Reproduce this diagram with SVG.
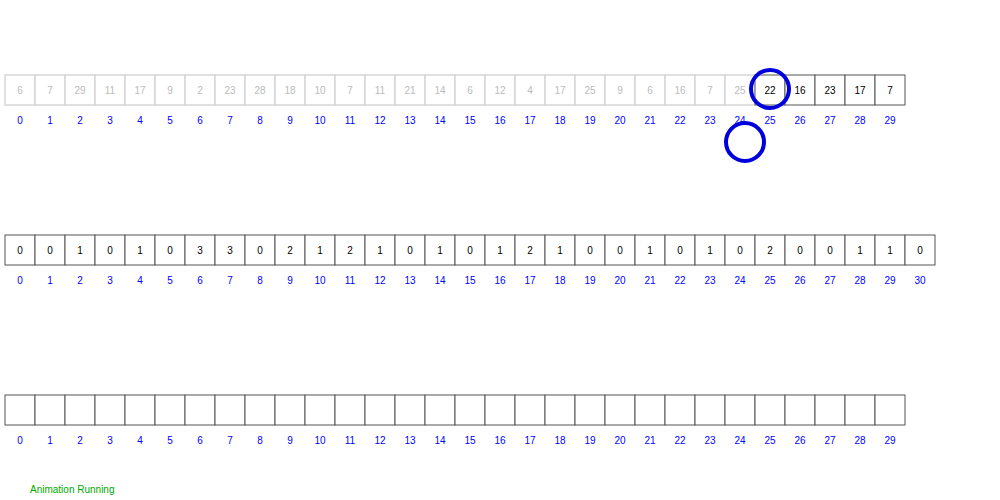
<svg xmlns="http://www.w3.org/2000/svg" width="1000" height="500" viewBox="0 0 1000 500">
<style>
text{font-family:"Liberation Sans",Arial,sans-serif;font-size:10px;text-anchor:middle}
.c{fill:#fff;stroke:#555;stroke-width:1}
.f{fill:#fff;stroke:#d6d6d6;stroke-width:1.5}
.v{fill:#000}
.fv{fill:#bbb}
.i{fill:#0000ff}
.hl{fill:none;stroke:#0000dd;stroke-width:4}
</style>
<rect width="1000" height="500" fill="#fff"/>
<g id="input">
<g id="a0"><rect class="f" x="5" y="75" width="30" height="30"/><text class="fv" x="20" y="93.5">6</text><text class="i" x="20" y="123.5">0</text></g>
<g id="a1"><rect class="f" x="35" y="75" width="30" height="30"/><text class="fv" x="50" y="93.5">7</text><text class="i" x="50" y="123.5">1</text></g>
<g id="a2"><rect class="f" x="65" y="75" width="30" height="30"/><text class="fv" x="80" y="93.5">29</text><text class="i" x="80" y="123.5">2</text></g>
<g id="a3"><rect class="f" x="95" y="75" width="30" height="30"/><text class="fv" x="110" y="93.5">11</text><text class="i" x="110" y="123.5">3</text></g>
<g id="a4"><rect class="f" x="125" y="75" width="30" height="30"/><text class="fv" x="140" y="93.5">17</text><text class="i" x="140" y="123.5">4</text></g>
<g id="a5"><rect class="f" x="155" y="75" width="30" height="30"/><text class="fv" x="170" y="93.5">9</text><text class="i" x="170" y="123.5">5</text></g>
<g id="a6"><rect class="f" x="185" y="75" width="30" height="30"/><text class="fv" x="200" y="93.5">2</text><text class="i" x="200" y="123.5">6</text></g>
<g id="a7"><rect class="f" x="215" y="75" width="30" height="30"/><text class="fv" x="230" y="93.5">23</text><text class="i" x="230" y="123.5">7</text></g>
<g id="a8"><rect class="f" x="245" y="75" width="30" height="30"/><text class="fv" x="260" y="93.5">28</text><text class="i" x="260" y="123.5">8</text></g>
<g id="a9"><rect class="f" x="275" y="75" width="30" height="30"/><text class="fv" x="290" y="93.5">18</text><text class="i" x="290" y="123.5">9</text></g>
<g id="a10"><rect class="f" x="305" y="75" width="30" height="30"/><text class="fv" x="320" y="93.5">10</text><text class="i" x="320" y="123.5">10</text></g>
<g id="a11"><rect class="f" x="335" y="75" width="30" height="30"/><text class="fv" x="350" y="93.5">7</text><text class="i" x="350" y="123.5">11</text></g>
<g id="a12"><rect class="f" x="365" y="75" width="30" height="30"/><text class="fv" x="380" y="93.5">11</text><text class="i" x="380" y="123.5">12</text></g>
<g id="a13"><rect class="f" x="395" y="75" width="30" height="30"/><text class="fv" x="410" y="93.5">21</text><text class="i" x="410" y="123.5">13</text></g>
<g id="a14"><rect class="f" x="425" y="75" width="30" height="30"/><text class="fv" x="440" y="93.5">14</text><text class="i" x="440" y="123.5">14</text></g>
<g id="a15"><rect class="f" x="455" y="75" width="30" height="30"/><text class="fv" x="470" y="93.5">6</text><text class="i" x="470" y="123.5">15</text></g>
<g id="a16"><rect class="f" x="485" y="75" width="30" height="30"/><text class="fv" x="500" y="93.5">12</text><text class="i" x="500" y="123.5">16</text></g>
<g id="a17"><rect class="f" x="515" y="75" width="30" height="30"/><text class="fv" x="530" y="93.5">4</text><text class="i" x="530" y="123.5">17</text></g>
<g id="a18"><rect class="f" x="545" y="75" width="30" height="30"/><text class="fv" x="560" y="93.5">17</text><text class="i" x="560" y="123.5">18</text></g>
<g id="a19"><rect class="f" x="575" y="75" width="30" height="30"/><text class="fv" x="590" y="93.5">25</text><text class="i" x="590" y="123.5">19</text></g>
<g id="a20"><rect class="f" x="605" y="75" width="30" height="30"/><text class="fv" x="620" y="93.5">9</text><text class="i" x="620" y="123.5">20</text></g>
<g id="a21"><rect class="f" x="635" y="75" width="30" height="30"/><text class="fv" x="650" y="93.5">6</text><text class="i" x="650" y="123.5">21</text></g>
<g id="a22"><rect class="f" x="665" y="75" width="30" height="30"/><text class="fv" x="680" y="93.5">16</text><text class="i" x="680" y="123.5">22</text></g>
<g id="a23"><rect class="f" x="695" y="75" width="30" height="30"/><text class="fv" x="710" y="93.5">7</text><text class="i" x="710" y="123.5">23</text></g>
<g id="a24"><rect class="f" x="725" y="75" width="30" height="30"/><text class="fv" x="740" y="93.5">25</text><text class="i" x="740" y="123.5">24</text></g>
<g id="a25"><rect class="c" x="755" y="75" width="30" height="30"/><text class="v" x="770" y="93.5">22</text><text class="i" x="770" y="123.5">25</text></g>
<g id="a26"><rect class="c" x="785" y="75" width="30" height="30"/><text class="v" x="800" y="93.5">16</text><text class="i" x="800" y="123.5">26</text></g>
<g id="a27"><rect class="c" x="815" y="75" width="30" height="30"/><text class="v" x="830" y="93.5">23</text><text class="i" x="830" y="123.5">27</text></g>
<g id="a28"><rect class="c" x="845" y="75" width="30" height="30"/><text class="v" x="860" y="93.5">17</text><text class="i" x="860" y="123.5">28</text></g>
<g id="a29"><rect class="c" x="875" y="75" width="30" height="30"/><text class="v" x="890" y="93.5">7</text><text class="i" x="890" y="123.5">29</text></g>
</g>
<g id="count">
<g id="c0"><rect class="c" x="5" y="235" width="30" height="30"/><text class="v" x="20" y="253.5">0</text><text class="i" x="20" y="283.5">0</text></g>
<g id="c1"><rect class="c" x="35" y="235" width="30" height="30"/><text class="v" x="50" y="253.5">0</text><text class="i" x="50" y="283.5">1</text></g>
<g id="c2"><rect class="c" x="65" y="235" width="30" height="30"/><text class="v" x="80" y="253.5">1</text><text class="i" x="80" y="283.5">2</text></g>
<g id="c3"><rect class="c" x="95" y="235" width="30" height="30"/><text class="v" x="110" y="253.5">0</text><text class="i" x="110" y="283.5">3</text></g>
<g id="c4"><rect class="c" x="125" y="235" width="30" height="30"/><text class="v" x="140" y="253.5">1</text><text class="i" x="140" y="283.5">4</text></g>
<g id="c5"><rect class="c" x="155" y="235" width="30" height="30"/><text class="v" x="170" y="253.5">0</text><text class="i" x="170" y="283.5">5</text></g>
<g id="c6"><rect class="c" x="185" y="235" width="30" height="30"/><text class="v" x="200" y="253.5">3</text><text class="i" x="200" y="283.5">6</text></g>
<g id="c7"><rect class="c" x="215" y="235" width="30" height="30"/><text class="v" x="230" y="253.5">3</text><text class="i" x="230" y="283.5">7</text></g>
<g id="c8"><rect class="c" x="245" y="235" width="30" height="30"/><text class="v" x="260" y="253.5">0</text><text class="i" x="260" y="283.5">8</text></g>
<g id="c9"><rect class="c" x="275" y="235" width="30" height="30"/><text class="v" x="290" y="253.5">2</text><text class="i" x="290" y="283.5">9</text></g>
<g id="c10"><rect class="c" x="305" y="235" width="30" height="30"/><text class="v" x="320" y="253.5">1</text><text class="i" x="320" y="283.5">10</text></g>
<g id="c11"><rect class="c" x="335" y="235" width="30" height="30"/><text class="v" x="350" y="253.5">2</text><text class="i" x="350" y="283.5">11</text></g>
<g id="c12"><rect class="c" x="365" y="235" width="30" height="30"/><text class="v" x="380" y="253.5">1</text><text class="i" x="380" y="283.5">12</text></g>
<g id="c13"><rect class="c" x="395" y="235" width="30" height="30"/><text class="v" x="410" y="253.5">0</text><text class="i" x="410" y="283.5">13</text></g>
<g id="c14"><rect class="c" x="425" y="235" width="30" height="30"/><text class="v" x="440" y="253.5">1</text><text class="i" x="440" y="283.5">14</text></g>
<g id="c15"><rect class="c" x="455" y="235" width="30" height="30"/><text class="v" x="470" y="253.5">0</text><text class="i" x="470" y="283.5">15</text></g>
<g id="c16"><rect class="c" x="485" y="235" width="30" height="30"/><text class="v" x="500" y="253.5">1</text><text class="i" x="500" y="283.5">16</text></g>
<g id="c17"><rect class="c" x="515" y="235" width="30" height="30"/><text class="v" x="530" y="253.5">2</text><text class="i" x="530" y="283.5">17</text></g>
<g id="c18"><rect class="c" x="545" y="235" width="30" height="30"/><text class="v" x="560" y="253.5">1</text><text class="i" x="560" y="283.5">18</text></g>
<g id="c19"><rect class="c" x="575" y="235" width="30" height="30"/><text class="v" x="590" y="253.5">0</text><text class="i" x="590" y="283.5">19</text></g>
<g id="c20"><rect class="c" x="605" y="235" width="30" height="30"/><text class="v" x="620" y="253.5">0</text><text class="i" x="620" y="283.5">20</text></g>
<g id="c21"><rect class="c" x="635" y="235" width="30" height="30"/><text class="v" x="650" y="253.5">1</text><text class="i" x="650" y="283.5">21</text></g>
<g id="c22"><rect class="c" x="665" y="235" width="30" height="30"/><text class="v" x="680" y="253.5">0</text><text class="i" x="680" y="283.5">22</text></g>
<g id="c23"><rect class="c" x="695" y="235" width="30" height="30"/><text class="v" x="710" y="253.5">1</text><text class="i" x="710" y="283.5">23</text></g>
<g id="c24"><rect class="c" x="725" y="235" width="30" height="30"/><text class="v" x="740" y="253.5">0</text><text class="i" x="740" y="283.5">24</text></g>
<g id="c25"><rect class="c" x="755" y="235" width="30" height="30"/><text class="v" x="770" y="253.5">2</text><text class="i" x="770" y="283.5">25</text></g>
<g id="c26"><rect class="c" x="785" y="235" width="30" height="30"/><text class="v" x="800" y="253.5">0</text><text class="i" x="800" y="283.5">26</text></g>
<g id="c27"><rect class="c" x="815" y="235" width="30" height="30"/><text class="v" x="830" y="253.5">0</text><text class="i" x="830" y="283.5">27</text></g>
<g id="c28"><rect class="c" x="845" y="235" width="30" height="30"/><text class="v" x="860" y="253.5">1</text><text class="i" x="860" y="283.5">28</text></g>
<g id="c29"><rect class="c" x="875" y="235" width="30" height="30"/><text class="v" x="890" y="253.5">1</text><text class="i" x="890" y="283.5">29</text></g>
<g id="c30"><rect class="c" x="905" y="235" width="30" height="30"/><text class="v" x="920" y="253.5">0</text><text class="i" x="920" y="283.5">30</text></g>
</g>
<g id="output">
<g id="o0"><rect class="c" x="5" y="395" width="30" height="30"/><text class="i" x="20" y="443.5">0</text></g>
<g id="o1"><rect class="c" x="35" y="395" width="30" height="30"/><text class="i" x="50" y="443.5">1</text></g>
<g id="o2"><rect class="c" x="65" y="395" width="30" height="30"/><text class="i" x="80" y="443.5">2</text></g>
<g id="o3"><rect class="c" x="95" y="395" width="30" height="30"/><text class="i" x="110" y="443.5">3</text></g>
<g id="o4"><rect class="c" x="125" y="395" width="30" height="30"/><text class="i" x="140" y="443.5">4</text></g>
<g id="o5"><rect class="c" x="155" y="395" width="30" height="30"/><text class="i" x="170" y="443.5">5</text></g>
<g id="o6"><rect class="c" x="185" y="395" width="30" height="30"/><text class="i" x="200" y="443.5">6</text></g>
<g id="o7"><rect class="c" x="215" y="395" width="30" height="30"/><text class="i" x="230" y="443.5">7</text></g>
<g id="o8"><rect class="c" x="245" y="395" width="30" height="30"/><text class="i" x="260" y="443.5">8</text></g>
<g id="o9"><rect class="c" x="275" y="395" width="30" height="30"/><text class="i" x="290" y="443.5">9</text></g>
<g id="o10"><rect class="c" x="305" y="395" width="30" height="30"/><text class="i" x="320" y="443.5">10</text></g>
<g id="o11"><rect class="c" x="335" y="395" width="30" height="30"/><text class="i" x="350" y="443.5">11</text></g>
<g id="o12"><rect class="c" x="365" y="395" width="30" height="30"/><text class="i" x="380" y="443.5">12</text></g>
<g id="o13"><rect class="c" x="395" y="395" width="30" height="30"/><text class="i" x="410" y="443.5">13</text></g>
<g id="o14"><rect class="c" x="425" y="395" width="30" height="30"/><text class="i" x="440" y="443.5">14</text></g>
<g id="o15"><rect class="c" x="455" y="395" width="30" height="30"/><text class="i" x="470" y="443.5">15</text></g>
<g id="o16"><rect class="c" x="485" y="395" width="30" height="30"/><text class="i" x="500" y="443.5">16</text></g>
<g id="o17"><rect class="c" x="515" y="395" width="30" height="30"/><text class="i" x="530" y="443.5">17</text></g>
<g id="o18"><rect class="c" x="545" y="395" width="30" height="30"/><text class="i" x="560" y="443.5">18</text></g>
<g id="o19"><rect class="c" x="575" y="395" width="30" height="30"/><text class="i" x="590" y="443.5">19</text></g>
<g id="o20"><rect class="c" x="605" y="395" width="30" height="30"/><text class="i" x="620" y="443.5">20</text></g>
<g id="o21"><rect class="c" x="635" y="395" width="30" height="30"/><text class="i" x="650" y="443.5">21</text></g>
<g id="o22"><rect class="c" x="665" y="395" width="30" height="30"/><text class="i" x="680" y="443.5">22</text></g>
<g id="o23"><rect class="c" x="695" y="395" width="30" height="30"/><text class="i" x="710" y="443.5">23</text></g>
<g id="o24"><rect class="c" x="725" y="395" width="30" height="30"/><text class="i" x="740" y="443.5">24</text></g>
<g id="o25"><rect class="c" x="755" y="395" width="30" height="30"/><text class="i" x="770" y="443.5">25</text></g>
<g id="o26"><rect class="c" x="785" y="395" width="30" height="30"/><text class="i" x="800" y="443.5">26</text></g>
<g id="o27"><rect class="c" x="815" y="395" width="30" height="30"/><text class="i" x="830" y="443.5">27</text></g>
<g id="o28"><rect class="c" x="845" y="395" width="30" height="30"/><text class="i" x="860" y="443.5">28</text></g>
<g id="o29"><rect class="c" x="875" y="395" width="30" height="30"/><text class="i" x="890" y="443.5">29</text></g>
</g>
<g id="highlights">
<circle class="hl" cx="770" cy="89" r="19"/>
<circle class="hl" cx="745" cy="142" r="19"/>
</g>
<g id="connectors"></g>
<text x="30" y="493" style="text-anchor:start;fill:#00aa00">Animation Running</text>
</svg>
